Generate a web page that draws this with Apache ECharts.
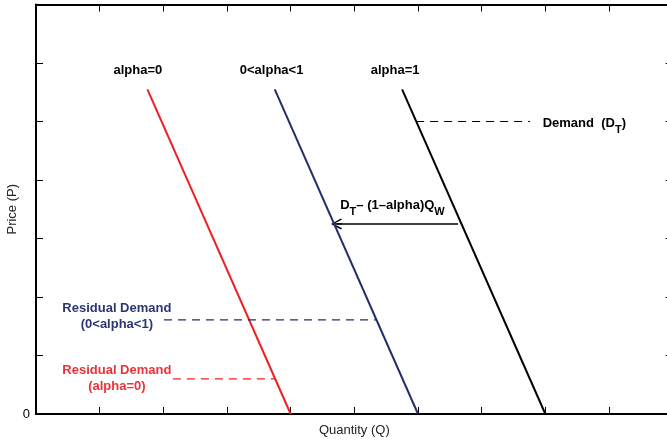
<!DOCTYPE html>
<html>
<head>
<meta charset="utf-8">
<script src="https://cdn.jsdelivr.net/npm/echarts@6/dist/echarts.min.js"></script>
<style>html,body{margin:0;padding:0;background:#fff}#c{width:667px;height:440px}</style>
</head>
<body>
<div id="c"></div>
<script>
// ---- data (axis units) ----
const qRange = [0, 10];
const pRange = [0, 7];
const yTickLabels = ['0'];
const redLine   = [[1.75, 5.55], [4, 0]];      // alpha=0
const navyLine  = [[3.75, 5.55], [6, 0]];      // 0<alpha<1
const blackLine = [[5.75, 5.55], [8, 0]];      // alpha=1
const demandDash   = [[5.97, 5.0], [7.76, 5.0]];
const resNavyDash  = [[2.01, 1.61], [5.35, 1.61]];
const resRedDash   = [[2.15, 0.6], [3.76, 0.6]];
const shiftArrow   = [[6.63, 3.25], [4.72, 3.25]];
const topLabels = [['alpha=0', 1.60, 5.88], ['0<alpha<1', 3.70, 5.88], ['alpha=1', 5.64, 5.88]];
const demandLabel = ['Demand  (D', 'T', ')', 7.95, 4.965];
const shiftLabel = ['D', 'T', '– (1–alpha)Q', 'W', 4.77, 3.57];
const resNavyLabel = ['Residual Demand', '(0<alpha<1)', 1.27, 1.675];
const resRedLabel = ['Residual Demand', '(alpha=0)', 1.27, 0.607];

const RED = '#ef1f22', NAVY = '#232e6a';
const FONT = '"Liberation Sans", Arial, Helvetica, sans-serif';

const chart = echarts.init(document.getElementById('c'), null, {renderer: 'canvas'});

const noBorder = {textBorderWidth: 0, textBorderColor: 'transparent', textShadowBlur: 0, opacity: 1};

function lineSeries(data, color, width, dashed) {
  return {
    type: 'line', data: data, symbol: 'none', silent: true,
    lineStyle: {color: color, width: width, type: dashed ? [8, 6] : 'solid'},
    emphasis: {disabled: true}
  };
}
function labelSeries(data, label) {
  return {
    type: 'scatter', data: data, symbolSize: 1, silent: true,
    itemStyle: {color: '#fff', opacity: 0},
    label: Object.assign({show: true, formatter: '{b}', fontFamily: FONT}, noBorder, label),
    emphasis: {disabled: true}
  };
}
const richMain = (c) => Object.assign({fontSize: 13, fontWeight: 'bold', color: c, fontFamily: FONT, lineHeight: 24, verticalAlign: 'middle'}, noBorder);
const richSub = (c) => Object.assign({fontSize: 11, fontWeight: 'bold', color: c, fontFamily: FONT, lineHeight: 11, verticalAlign: 'bottom'}, noBorder);

const arrowPath = 'path://M5,0 L10,9 L9,10 L5.6,3.6 L5.6,10 L4.4,10 L4.4,3.6 L1,10 L0,9 Z';

const axisBase = {
  type: 'value',
  axisLine: {show: true, onZero: false, lineStyle: {color: '#000', width: 2}},
  axisTick: {show: true, inside: true, length: 7, lineStyle: {color: '#000', width: 1}},
  axisLabel: {show: false}, splitLine: {show: false}
};

const option = {
  animation: false,
  grid: {left: 36, top: 4.5, width: 636.7, height: 409.5, containLabel: false, outerBoundsMode: 'none'},
  xAxis: [
    Object.assign({}, axisBase, {
      min: qRange[0], max: qRange[1], interval: 1, position: 'bottom',
      name: 'Quantity (Q)', nameLocation: 'middle', nameGap: 10, nameMoveOverlap: false,
      nameTextStyle: {fontSize: 13, color: '#222', fontFamily: FONT}
    }),
    Object.assign({}, axisBase, {min: qRange[0], max: qRange[1], interval: 1, position: 'top'})
  ],
  yAxis: [
    Object.assign({}, axisBase, {
      min: pRange[0], max: pRange[1], interval: 1, position: 'left',
      name: 'Price (P)', nameLocation: 'middle', nameGap: 17, nameMoveOverlap: false,
      nameTextStyle: {fontSize: 13, color: '#222', fontFamily: FONT},
      axisLabel: {show: true, margin: 6, fontSize: 13, color: '#000', fontFamily: FONT,
        formatter: (v, i) => (i < yTickLabels.length ? yTickLabels[i] : '')}
    }),
    Object.assign({}, axisBase, {min: pRange[0], max: pRange[1], interval: 1, position: 'right'})
  ],
  series: [
    lineSeries(redLine, RED, 2, false),
    lineSeries(navyLine, NAVY, 2, false),
    lineSeries(blackLine, '#000', 2, false),
    lineSeries(demandDash, '#000', 1.2, true),
    lineSeries(resNavyDash, NAVY, 1.2, true),
    lineSeries(resRedDash, RED, 1.2, true),
    {
      type: 'lines', coordinateSystem: 'cartesian2d', silent: true,
      symbol: ['none', arrowPath], symbolSize: [12, 11],
      lineStyle: {color: '#000', width: 1.5, opacity: 1},
      data: [{coords: shiftArrow}]
    },
    labelSeries(topLabels.map(t => ({name: t[0], value: [t[1], t[2]]})),
      {position: 'inside', fontSize: 13, fontWeight: 'bold', color: '#000'}),
    labelSeries([{name: 'd', value: [demandLabel[3], demandLabel[4]]}],
      {position: 'right', distance: 0,
       formatter: () => '{m|' + demandLabel[0] + '}{s|' + demandLabel[1] + '}{m|' + demandLabel[2] + '}',
       rich: {m: richMain('#000'), s: richSub('#000')}}),
    labelSeries([{name: 's', value: [shiftLabel[4], shiftLabel[5]]}],
      {position: 'right', distance: 0,
       formatter: () => '{m|' + shiftLabel[0] + '}{s|' + shiftLabel[1] + '}{m|' + shiftLabel[2] + '}{s|' + shiftLabel[3] + '}',
       rich: {m: richMain('#000'), s: richSub('#000')}}),
    labelSeries([{name: resNavyLabel[0] + '\n' + resNavyLabel[1], value: [resNavyLabel[2], resNavyLabel[3]]}],
      {position: 'inside', fontSize: 13, fontWeight: 'bold', color: '#2b3671', lineHeight: 16, align: 'center'}),
    labelSeries([{name: resRedLabel[0] + '\n' + resRedLabel[1], value: [resRedLabel[2], resRedLabel[3]]}],
      {position: 'inside', fontSize: 13, fontWeight: 'bold', color: '#e8333a', lineHeight: 16.5, align: 'center'})
  ]
};
chart.setOption(option);
</script>
</body>
</html>
